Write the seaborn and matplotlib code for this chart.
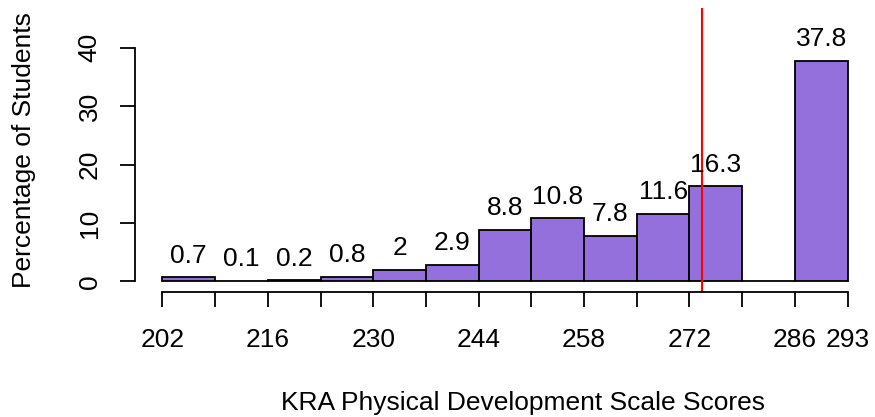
import matplotlib
matplotlib.use("Agg")
import matplotlib.pyplot as plt
import seaborn as sns
import numpy as np

sns.set_style("white")
plt.rcParams['font.family'] = ['Liberation Sans', 'DejaVu Sans']
plt.rcParams['text.color'] = 'black'
plt.rcParams['axes.labelcolor'] = 'black'
plt.rcParams['xtick.color'] = 'black'
plt.rcParams['ytick.color'] = 'black'

bin_edges = [202, 209, 216, 223, 230, 237, 244, 251, 258, 265, 272, 279, 286, 293]
percentages = [0.7, 0.1, 0.2, 0.8, 2, 2.9, 8.8, 10.8, 7.8, 11.6, 16.3, 0, 37.8]
bar_labels = ["0.7", "0.1", "0.2", "0.8", "2", "2.9", "8.8", "10.8", "7.8", "11.6", "16.3", "", "37.8"]
tick_label_values = [202, 216, 230, 244, 258, 272, 286, 293]
y_ticks = [0, 10, 20, 30, 40]
cut_score = 273.6

W, H = 875, 417
fig = plt.figure(figsize=(W / 100, H / 100), dpi=100)
ax = fig.add_axes([135 / W, (H - 292) / H, (875 - 135) / W, (292 - 8) / H])

mids = [(a + b) / 2 for a, b in zip(bin_edges[:-1], bin_edges[1:])]
sns.histplot(x=mids, weights=percentages, bins=bin_edges, ax=ax,
             color="#9370DB", edgecolor="black", linewidth=1.3, alpha=1)

fs = 19
for m, v, lab in zip(mids, percentages, bar_labels):
    if lab:
        ax.annotate(lab, (m, v), xytext=(0, 10.5), textcoords="offset points",
                    ha="center", va="baseline", fontsize=fs, color="black")

ax.axvline(cut_score, color="red", linewidth=1.5)

xr = bin_edges[-1] - bin_edges[0]
ax.set_xlim(bin_edges[0] - 0.04 * xr, bin_edges[-1] + 0.04 * xr)
ax.set_ylim(-1.8, 46.8)

ax.set_xticks(bin_edges)
ax.set_xticklabels([str(e) if e in tick_label_values else "" for e in bin_edges])
ax.set_yticks(y_ticks)
ax.set_yticklabels([str(t) for t in y_ticks], rotation=90, va="center")

for s in ["top", "right"]:
    ax.spines[s].set_visible(False)
ax.spines["bottom"].set_bounds(bin_edges[0], bin_edges[-1])
ax.spines["left"].set_bounds(0, 40)
for s in ["bottom", "left"]:
    ax.spines[s].set_linewidth(1.3)
    ax.spines[s].set_color("black")

ax.tick_params(axis="both", direction="out", length=11, width=1.3, color="black",
               labelsize=fs, bottom=True, left=True)
ax.tick_params(axis="x", pad=15)
ax.tick_params(axis="y", pad=13)

ax.set_xlabel("KRA Physical Development Scale Scores", fontsize=fs)
ax.xaxis.set_label_coords(523 / W, (H - 410) / H, transform=fig.transFigure)
ax.xaxis.label.set_va("baseline")
ax.set_ylabel("Percentage of Students", fontsize=fs)
ax.yaxis.set_label_coords(24 / W, (H - 150) / H, transform=fig.transFigure)
ax.yaxis.label.set_va("center")

fig.savefig("out.png", dpi=100)
